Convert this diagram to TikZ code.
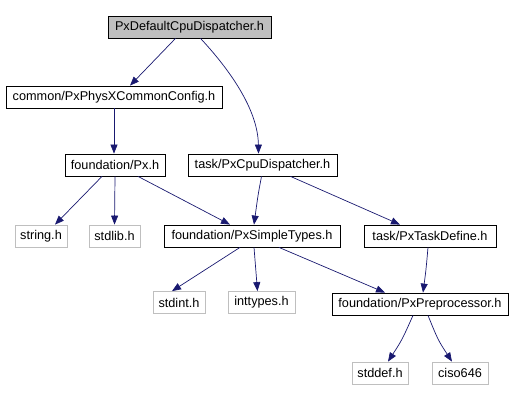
\documentclass[tikz,border=0pt]{standalone}
\usepackage{fontspec}
\setmainfont{Liberation Sans}
\usetikzlibrary{positioning, arrows.meta}
\definecolor{edgeblue}{RGB}{25,25,112}
\definecolor{rootgray}{RGB}{191,191,191}
\definecolor{sysgray}{RGB}{191,191,191}

\begin{document}
\begin{tikzpicture}[
  x=1pt, y=-1pt,
  every node/.style={font=\fontsize{12.7}{14}\selectfont},
  hdr/.style={rectangle, draw=black, line width=0.8pt, inner sep=0pt,
              minimum height=22pt},
  syshdr/.style={hdr, draw=sysgray},
  roothdr/.style={hdr, fill=rootgray},
  inc/.style={-{Triangle[width=7pt,length=9pt,fill=edgeblue]}, draw=edgeblue,
              line width=0.7pt}
]
  \useasboundingbox (0,0) rectangle (513,401);

  \node[roothdr, minimum width=163pt] (root) at (189.5,27) {PxDefaultCpuDispatcher.h};
  \node[hdr, minimum width=216pt] (common) at (114,97) {common/PxPhysXCommonConfig.h};
  \node[hdr, minimum width=100pt] (px) at (115,165) {foundation/Px.h};
  \node[hdr, minimum width=149pt] (cpudisp) at (262.5,165) {task/PxCpuDispatcher.h};

  \node[syshdr, minimum width=52pt] (string) at (41,236) {string.h};
  \node[syshdr, minimum width=51pt] (stdlib) at (114.5,236) {stdlib.h};
  \node[hdr, minimum width=176pt] (simple) at (252,236) {foundation/PxSimpleTypes.h};
  \node[hdr, minimum width=132pt] (taskdef) at (430,236) {task/PxTaskDefine.h};

  \node[syshdr, minimum width=52pt] (stdint) at (179,302.5) {stdint.h};
  \node[syshdr, minimum width=67pt] (inttypes) at (261.5,302.5) {inttypes.h};
  \node[hdr, minimum width=176pt] (prep) at (420,304) {foundation/PxPreprocessor.h};

  \node[syshdr, minimum width=56pt] (stddef) at (380,373) {stddef.h};
  \node[syshdr, minimum width=56pt] (ciso) at (460,373) {ciso646};

  % include edges
  \draw[inc] ([xshift=-14pt]root.south) -- ([xshift=16pt]common.north);
  \draw[inc] ([xshift=11pt]root.south) .. controls (230,70) and (258,110) .. ([xshift=-4pt]cpudisp.north);
  \draw[inc] (common.south) -- (px.north -| common.south);
  \draw[inc] ([xshift=-13pt]px.south) -- ([xshift=14pt]string.north);
  \draw[inc] (px.south) -- (stdlib.north);
  \draw[inc] ([xshift=23pt]px.south) -- ([xshift=-22pt]simple.north);
  \draw[inc] ([xshift=-1pt]cpudisp.south) .. controls (258,195) .. ([xshift=2pt]simple.north);
  \draw[inc] ([xshift=28pt]cpudisp.south) -- ([xshift=-30pt]taskdef.north);
  \draw[inc] ([xshift=-12pt]simple.south) -- ([xshift=-7pt]stdint.north);
  \draw[inc] ([xshift=2pt]simple.south) -- ([xshift=-4pt]inttypes.north);
  \draw[inc] ([xshift=27pt]simple.south) -- ([xshift=-35pt]prep.north);
  \draw[inc] ([xshift=-2pt]taskdef.south) .. controls (426,270) .. ([xshift=3pt]prep.north);
  \draw[inc] ([xshift=-7pt]prep.south) .. controls (402,340) .. ([xshift=8pt]stddef.north);
  \draw[inc] ([xshift=8pt]prep.south) .. controls (438,340) .. ([xshift=-8pt]ciso.north);
\end{tikzpicture}
\end{document}
